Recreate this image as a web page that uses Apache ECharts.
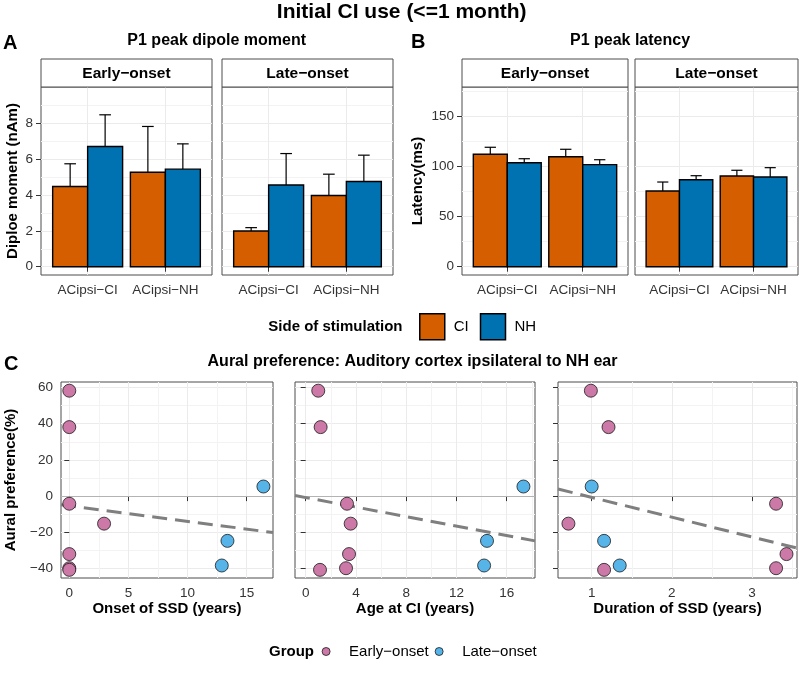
<!DOCTYPE html>
<html>
<head>
<meta charset="utf-8">
<title>Initial CI use</title>
<script src="https://cdn.jsdelivr.net/npm/echarts@6/dist/echarts.min.js"></script>
<style>
  html, body { margin: 0; padding: 0; background: #fff; }
  #chart { width: 799px; height: 673px; }
</style>
</head>
<body>
<div id="chart"></div>
<script>
// values
const sides = ["CI", "NH"];
const sites = ["ACipsi\u2212CI", "ACipsi\u2212NH"];
const groups = ["Early\u2212onset", "Late\u2212onset"];

// P1 peak dipole moment (nAm): bar = mean, upper = top of error bar
// rows: [early, late], cols: [ACipsi-CI, ACipsi-NH]
const dipoleCI = [[4.47, 5.27], [1.99, 3.97]];
const dipoleCIUpper = [[5.74, 7.82], [2.18, 5.16]];
const dipoleNH = [[6.70, 5.44], [4.56, 4.75]];
const dipoleNHUpper = [[8.47, 6.85], [6.31, 6.22]];

// P1 peak latency (ms)
const latencyCI = [[111.9, 109.5], [75.4, 90.3]];
const latencyCIUpper = [[118.9, 116.9], [84.3, 96.0]];
const latencyNH = [[103.5, 101.6], [86.6, 89.3]];
const latencyNHUpper = [[107.5, 106.5], [90.6, 98.6]];

// aural preference (%) per child
const auralEarly = [58.2, 38.1, -4.2, -15.2, -32.0, -39.8, -40.7];
const onsetEarly = [0, 0, 0, 2.94, 0, 0, 0];
const ageEarly = [1.0, 1.19, 3.29, 3.58, 3.45, 3.21, 1.14];
const durationEarly = [0.99, 1.21, 3.3, 0.71, 3.43, 3.3, 1.155];
const auralLate = [5.3, -24.7, -38.3];
const onsetLate = [16.41, 13.37, 12.89];
const ageLate = [17.33, 14.43, 14.2];
const durationLate = [1.0, 1.155, 1.35];

// lm fit lines (ends at the panel edges)
const fitOnset = [[-0.70, -4.8], [17.22, -20.1]];
const fitAge = [[-0.85, 0.3], [18.25, -24.7]];
const fitDuration = [[0.58, 3.9], [3.561, -28.7]];

// ticks
const siteTicks = [1, 2];
const dipoleTicks = [0, 2, 4, 6, 8];
const dipoleMinor = [1, 3, 5, 7, 9];
const latencyTicks = [0, 50, 100, 150];
const latencyMinor = [25, 75, 125, 175];
const auralTicks = [-40, -20, 0, 20, 40, 60];
const auralMinor = [-30, -10, 10, 30, 50];
const onsetTicks = [0, 5, 10, 15];
const onsetMinor = [2.5, 7.5, 12.5];
const ageTicks = [0, 4, 8, 12, 16];
const ageMinor = [2, 6, 10, 14, 18];
const durationTicks = [1, 2, 3];
const durationMinor = [1.5, 2.5, 3.5];

// ---- drawing ----
const FONT = '"Liberation Sans", Arial, Helvetica, sans-serif';
const BORDER = "#4d4d4d";
const sideColors = { CI: "#D55E00", NH: "#0072B2" };
const groupColors = ["#CC79A7", "#56B4E9"];
const DODGE = 0.45; // bar width in category units
const CAP = 0.075;  // half width of error bar cap

const grids = [], xAxis = [], yAxis = [], series = [];
const fmtNum = v => String(v).replace("-", "\u2212");

function addAxis(dim, gi, sc) {
  const list = dim === "x" ? xAxis : yAxis;
  const idx = list.length;
  list.push({
    type: "value", gridIndex: gi, min: sc.min, max: sc.max,
    position: dim === "x" ? "bottom" : "left",
    axisLine: { show: false },
    axisTick: { show: sc.ticksShown !== false, length: 5, customValues: sc.ticks,
      lineStyle: { color: "#333", width: 1 } },
    axisLabel: { show: sc.labels !== false, customValues: sc.ticks, margin: 8,
      color: "#333", fontSize: 13.5, fontFamily: FONT, formatter: sc.fmt || fmtNum },
    splitLine: { show: true, lineStyle: { color: "#EBEBEB", width: 1 } },
    name: sc.name || "", nameLocation: "middle", nameGap: sc.nameGap || 0,
    nameTextStyle: { fontSize: 15, fontWeight: "bold", color: "#000", fontFamily: FONT }
  });
  if (sc.minor) {
    // hidden twin axis, only for the minor grid lines
    list.push({
      type: "value", gridIndex: gi, min: sc.min, max: sc.max,
      position: dim === "x" ? "top" : "right",
      axisLine: { show: false },
      axisTick: { show: false, customValues: sc.minor },
      axisLabel: { show: false, customValues: sc.minor },
      splitLine: { show: true, lineStyle: { color: "#F3F3F3", width: 1 } }
    });
  }
  return idx;
}

function addGrid(box) {
  grids.push({
    left: box[0], top: box[1], width: box[2], height: box[3],
    show: true, backgroundColor: "#fff", borderColor: BORDER, borderWidth: 1
  });
  return grids.length - 1;
}

function renderBar(params, api) {
  const x = api.value(0), mean = api.value(1), upper = api.value(2);
  const left = params.seriesName === "CI" ? x - DODGE : x;
  const mid = left + DODGE / 2;
  const tl = api.coord([left, mean]);
  const br = api.coord([left + DODGE, 0]);
  const top = api.coord([mid, upper]);
  const c1 = api.coord([mid - CAP, upper]);
  const c2 = api.coord([mid + CAP, upper]);
  const ink = { stroke: "#000", lineWidth: 1.2 };
  return {
    type: "group",
    children: [
      { type: "line", shape: { x1: top[0], y1: tl[1], x2: top[0], y2: top[1] }, style: ink },
      { type: "line", shape: { x1: c1[0], y1: c1[1], x2: c2[0], y2: c2[1] }, style: ink },
      { type: "rect", shape: { x: tl[0], y: tl[1], width: br[0] - tl[0], height: br[1] - tl[1] },
        style: { fill: api.visual("color"), stroke: "#000", lineWidth: 1.4 } }
    ]
  };
}

const siteX = { min: 0.4, max: 2.6, ticks: siteTicks, fmt: v => sites[Math.round(v) - 1] };
const dipoleY = { min: -0.46, max: 10.02, ticks: dipoleTicks, minor: dipoleMinor };
const latencyY = { min: -8.26, max: 178.9, ticks: latencyTicks, minor: latencyMinor };

const barPanels = [
  { box: [41, 87, 171, 188], y: Object.assign({ name: "Diploe moment (nAm)", nameGap: 21 }, dipoleY),
    mean: [dipoleCI[0], dipoleNH[0]], upper: [dipoleCIUpper[0], dipoleNHUpper[0]], strip: groups[0] },
  { box: [222, 87, 171, 188], y: Object.assign({ labels: false, ticksShown: false }, dipoleY),
    mean: [dipoleCI[1], dipoleNH[1]], upper: [dipoleCIUpper[1], dipoleNHUpper[1]], strip: groups[1] },
  { box: [462, 87, 166, 188], y: Object.assign({ name: "Latency(ms)", nameGap: 37 }, latencyY),
    mean: [latencyCI[0], latencyNH[0]], upper: [latencyCIUpper[0], latencyNHUpper[0]], strip: groups[0] },
  { box: [635, 87, 163, 188], y: Object.assign({ labels: false, ticksShown: false }, latencyY),
    mean: [latencyCI[1], latencyNH[1]], upper: [latencyCIUpper[1], latencyNHUpper[1]], strip: groups[1] }
];

const graphic = [];
const textEl = (x, y, text, size, bold, align) => ({
  type: "text", x: x, y: y, z: 10,
  style: { text: text, fontSize: size, fontWeight: bold ? "bold" : "normal", fontFamily: FONT,
    fill: "#000", align: align || "center", verticalAlign: "middle" }
});

barPanels.forEach(p => {
  const gi = addGrid(p.box);
  const xi = addAxis("x", gi, siteX);
  const yi = addAxis("y", gi, p.y);
  sides.forEach((s, k) => {
    series.push({
      type: "custom", name: s, xAxisIndex: xi, yAxisIndex: yi, silent: true,
      itemStyle: { color: sideColors[s], borderColor: "#000", borderWidth: 1.5 },
      renderItem: renderBar,
      encode: { x: 0, y: [1, 2] },
      data: sites.map((_, i) => [i + 1, p.mean[k][i], p.upper[k][i]])
    });
  });
  // facet strip
  graphic.push({ type: "rect", z: 9, shape: { x: p.box[0], y: 59, width: p.box[2], height: 28 },
    style: { fill: "#fff", stroke: BORDER, lineWidth: 1 } });
  graphic.push(textEl(p.box[0] + p.box[2] / 2, 73.5, p.strip, 15.5, true));
});

const auralY = { min: -45.2, max: 63.0, ticks: auralTicks, minor: auralMinor };
const scatterPanels = [
  { box: [61, 382, 212, 196], first: true,
    x: { min: -0.70, max: 17.22, ticks: onsetTicks, minor: onsetMinor, name: "Onset of SSD (years)", nameGap: 22 },
    early: onsetEarly, late: onsetLate, fit: fitOnset },
  { box: [295, 382, 240, 196],
    x: { min: -0.85, max: 18.25, ticks: ageTicks, minor: ageMinor, name: "Age at CI (years)", nameGap: 22 },
    early: ageEarly, late: ageLate, fit: fitAge },
  { box: [558, 382, 239, 196],
    x: { min: 0.58, max: 3.561, ticks: durationTicks, minor: durationMinor, name: "Duration of SSD (years)", nameGap: 22 },
    early: durationEarly, late: durationLate, fit: fitDuration }
];

scatterPanels.forEach(p => {
  const gi = addGrid(p.box);
  const xi = addAxis("x", gi, p.x);
  const yi = addAxis("y", gi, p.first
    ? Object.assign({ name: "Aural preference(%)", nameGap: 43 }, auralY)
    : Object.assign({ labels: false }, auralY));
  series.push({
    type: "line", xAxisIndex: xi, yAxisIndex: yi, data: p.fit, symbol: "none", silent: true, z: 2,
    lineStyle: { color: "#7F7F7F", width: 3, type: [15, 8] },
    markLine: { silent: true, symbol: "none", z: 1, label: { show: false },
      lineStyle: { color: "#B3B3B3", width: 1, type: "solid" }, data: [{ yAxis: 0 }] }
  });
  [[p.early, auralEarly], [p.late, auralLate]].forEach((d, k) => {
    series.push({
      type: "scatter", name: groups[k], xAxisIndex: xi, yAxisIndex: yi, z: 3, silent: true,
      symbolSize: 13,
      itemStyle: { color: groupColors[k], borderColor: "#1a1a1a", borderWidth: 0.8, opacity: 1 },
      data: d[0].map((v, i) => [v, d[1][i]])
    });
  });
});

graphic.push(textEl(401.7, 12, "Initial CI use (<=1 month)", 21, true));
graphic.push(textEl(3, 43, "A", 20, true, "left"));
graphic.push(textEl(411, 42, "B", 20, true, "left"));
graphic.push(textEl(4, 364, "C", 20, true, "left"));
graphic.push(textEl(216.7, 40.5, "P1 peak dipole moment", 16, true));
graphic.push(textEl(630, 40.5, "P1 peak latency", 16, true));
graphic.push(textEl(412.5, 362, "Aural preference: Auditory cortex ipsilateral to NH ear", 16, true));
graphic.push(textEl(268.3, 327, "Side of stimulation", 15, true, "left"));
graphic.push(textEl(269, 652, "Group", 15, true, "left"));

const chart = echarts.init(document.getElementById("chart"), null, { renderer: "canvas" });
chart.setOption({
  animation: false,
  backgroundColor: "#fff",
  textStyle: { fontFamily: FONT },
  grid: grids,
  xAxis: xAxis,
  yAxis: yAxis,
  legend: [
    { data: sides, left: 419, top: 313, padding: 0, orient: "horizontal", icon: "rect",
      itemWidth: 25, itemHeight: 26, itemGap: 11, selectedMode: false,
      itemStyle: { borderColor: "#000", borderWidth: 1.5 },
      textStyle: { fontSize: 15, color: "#000", fontFamily: FONT, padding: [0, 0, 0, 4] } },
    { data: groups, left: 321.7, top: 644, padding: 0, orient: "horizontal", icon: "circle",
      itemWidth: 30, itemHeight: 8, itemGap: 6, selectedMode: false,
      itemStyle: { borderColor: "#1a1a1a", borderWidth: 0.8 },
      textStyle: { fontSize: 15, color: "#000", fontFamily: FONT, padding: [0, 0, 0, 3] } }
  ],
  graphic: graphic,
  series: series
});
window.addEventListener("resize", () => chart.resize());
</script>
</body>
</html>
